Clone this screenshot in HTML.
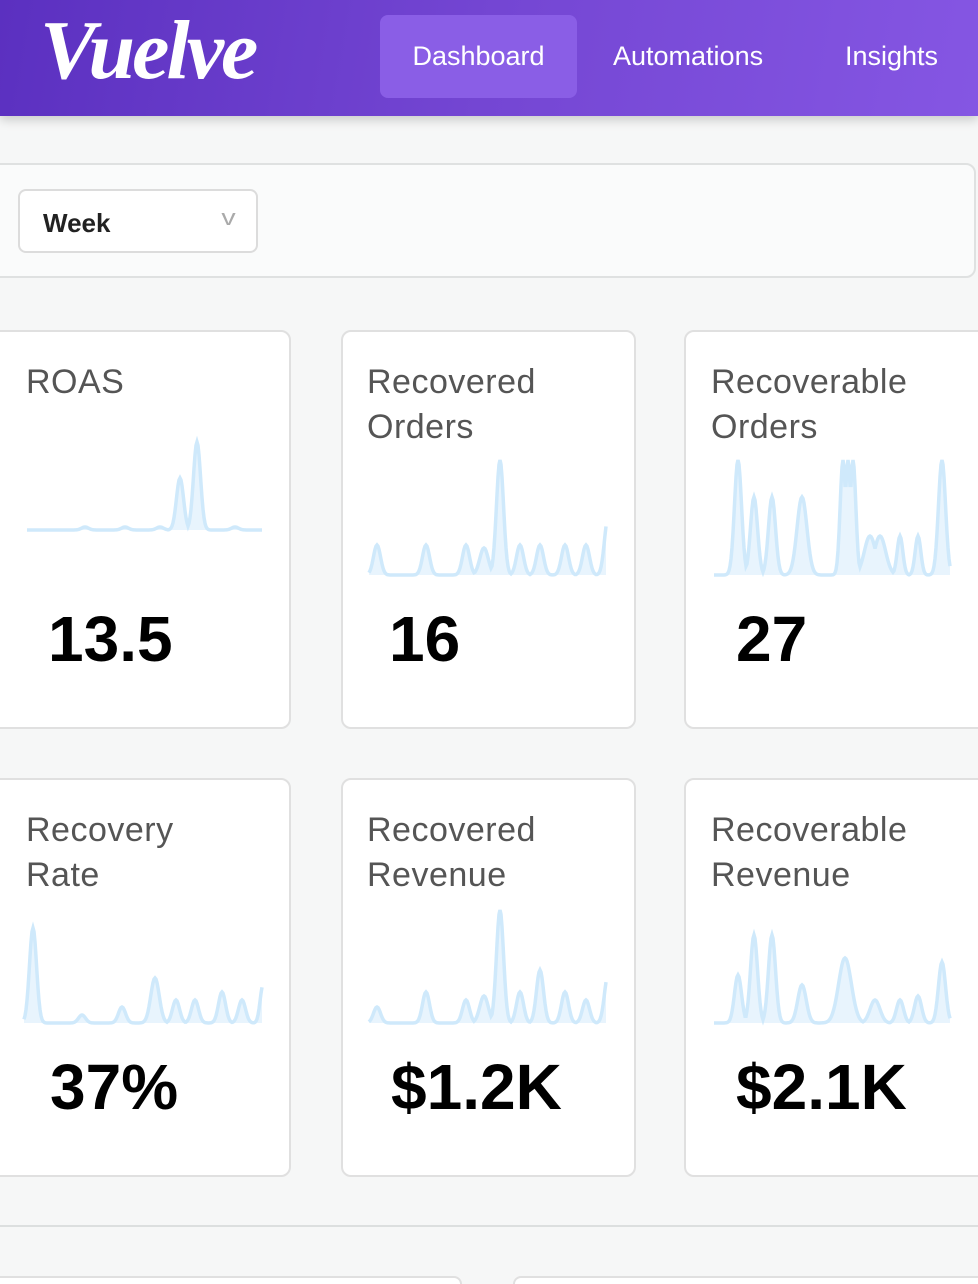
<!DOCTYPE html>
<html style="width:978px;height:1284px;overflow:hidden"><head><meta charset="utf-8"><style>
*{margin:0;padding:0;box-sizing:border-box}
body{width:978px;height:1284px;overflow:hidden;background:#f6f7f7;font-family:"Liberation Sans",sans-serif;position:relative}
.hdr{position:absolute;left:0;top:0;width:978px;height:116px;background:linear-gradient(100deg,#5b30c0 0%,#7446d3 50%,#8556e3 100%);box-shadow:0 4px 10px rgba(0,0,0,.18)}
.logo{position:absolute;left:40px;top:2px;font-family:"Liberation Serif",serif;font-style:italic;font-weight:bold;font-size:84px;color:#fff;letter-spacing:-3px}
.nav{position:absolute;top:15px;height:83px;line-height:83px;color:#fff;font-size:27px}
.active{left:380px;width:197px;background:#8a5ee6;border-radius:8px;text-align:center}
.box{position:absolute;background:#fafbfb;border:2px solid #dfe1e1;border-radius:10px}
.sel{position:absolute;left:18px;top:189px;width:240px;height:64px;background:#fff;border:2px solid #dcdcdc;border-radius:8px;font-size:26px;font-weight:bold;color:#222;padding:17px 0 0 23px}
.sel span{position:absolute;right:22px;top:14px;color:#aaa;font-weight:normal;font-size:22px;transform:scaleX(1.3)}
.card{position:absolute;background:#fff;border:2px solid #e0e0e0;border-radius:10px;height:399px}
.t{position:absolute;left:24px;top:28px;font-size:34px;line-height:45px;color:#555;letter-spacing:.5px}
.v{position:absolute;left:46px;top:270px;font-size:64px;font-weight:bold;color:#000}
svg{position:absolute;left:0;top:0}
</style></head><body>
<div class="hdr">
<div class="logo">Vuelve</div>
<div class="nav active">Dashboard</div>
<div class="nav" style="left:613px">Automations</div>
<div class="nav" style="left:845px">Insights</div>
</div>
<div class="box" style="left:-10px;top:163px;width:986px;height:115px"></div>
<div class="sel">Week<span>v</span></div>

<div class="card" style="left:-10px;top:330px;width:301px"><div class="t" style="left:34px">ROAS</div><div class="v" style="left:56px">13.5</div></div>
<div class="card" style="left:341px;top:330px;width:295px"><div class="t">Recovered<br>Orders</div><div class="v">16</div></div>
<div class="card" style="left:684px;top:330px;width:305px"><div class="t" style="left:25px">Recoverable<br>Orders</div><div class="v" style="left:50px">27</div></div>
<div class="card" style="left:-10px;top:778px;width:301px"><div class="t" style="left:34px">Recovery<br>Rate</div><div class="v" style="left:58px">37%</div></div>
<div class="card" style="left:341px;top:778px;width:295px"><div class="t">Recovered<br>Revenue</div><div class="v" style="left:48px">$1.2K</div></div>
<div class="card" style="left:684px;top:778px;width:305px"><div class="t" style="left:25px">Recoverable<br>Revenue</div><div class="v" style="left:50px">$2.1K</div></div>

<div style="position:absolute;left:0;top:1225px;width:978px;height:2px;background:#dcdfdf"></div>
<div class="card" style="left:-10px;top:1276px;width:472px;height:8px;border-bottom:none;border-radius:10px 10px 0 0"></div>
<div class="card" style="left:513px;top:1276px;width:480px;height:8px;border-bottom:none;border-radius:10px 10px 0 0"></div>

<svg id="s" width="978" height="1284"></svg>
<script>
var S=[
 [27,262,530,[[180,478,5],[197,442,5],[85,527,5],[125,527,5],[160,527,5],[235,527,5]]],
 [369,606,575,[[377,545,5],[426,545,5],[466,545,5],[484,548,6],[500,460,5],[520,545,5],[540,545,5],[565,545,5],[586,545,5],[608,518,5]]],
 [714,950,575,[[738,460,5],[754,497,5],[772,497,5],[802,497,7],[843,460,4],[848,460,4],[853,460,4],[870,536,8],[880,536,8],[900,536,4],[918,536,4],[942,460,5]]],
 [24,262,1023,[[33,928,5],[82,1015,5],[122,1007,5],[155,978,6],[176,1000,5],[195,1000,5],[222,992,5],[242,1000,5],[263,985,4]]],
 [369,606,1023,[[377,1007,5],[426,992,5],[466,1000,5],[484,996,6],[500,910,5],[520,992,5],[540,970,5],[565,992,5],[586,1000,5],[608,975,5]]],
 [714,950,1023,[[738,975,5],[754,935,5],[772,935,5],[802,985,6],[845,958,9],[875,1000,7],[900,1000,5],[918,996,5],[942,962,5]]]
];
var h='';
S.forEach(function(s){
 var pts=[];
 for(var x=s[0];x<=s[1];x+=1){
  var y=s[2];
  s[3].forEach(function(p){var d=(x-p[0])/p[2];var v=(s[2]-p[1])*Math.exp(-d*d);if(s[2]-v<y)y=s[2]-v;});
  pts.push(x+','+y.toFixed(1));
 }
 var line='M'+pts.join(' L');
 h+='<path d="'+line+' L'+s[1]+','+s[2]+' L'+s[0]+','+s[2]+' Z" fill="#e8f4fd"/>';
 h+='<path d="'+line+'" fill="none" stroke="#cfe9fb" stroke-width="3.5"/>';
});
document.getElementById('s').innerHTML=h;
</script>
</body></html>
